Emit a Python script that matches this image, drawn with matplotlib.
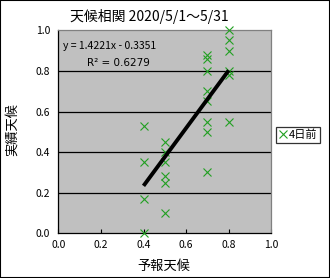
import numpy as np
import matplotlib
matplotlib.use("Agg")
import matplotlib.pyplot as plt
from matplotlib.patches import Rectangle

plt.rcParams["font.family"] = ["Noto Sans CJK JP", "DejaVu Sans"]

# forecast (x) vs actual (y), 4 days ahead
forecast = [0.4, 0.4, 0.4, 0.4,
            0.5, 0.5, 0.5, 0.5, 0.5, 0.5,
            0.7, 0.7, 0.7, 0.7, 0.7, 0.7, 0.7, 0.7,
            0.8, 0.8, 0.8, 0.8, 0.8, 0.8]
actual = [0.53, 0.35, 0.17, 0.0,
          0.45, 0.40, 0.35, 0.28, 0.25, 0.10,
          0.88, 0.86, 0.80, 0.70, 0.65, 0.55, 0.50, 0.30,
          1.0, 0.95, 0.90, 0.80, 0.78, 0.55]
slope = 1.4221
intercept = -0.3351
r2 = 0.6279
ticks = [0.0, 0.2, 0.4, 0.6, 0.8, 1.0]

W, H = 330, 278
fig = plt.figure(figsize=(W / 100, H / 100), dpi=100)
fig.patch.set_facecolor("white")
fig.add_artist(Rectangle((0, 0), 1, 1, transform=fig.transFigure, fill=False,
                         edgecolor="black", linewidth=1.5))

ax = fig.add_axes([58.3 / W, 1 - 233.3 / H, 213 / W, 203 / H])
ax.set_facecolor("#c0c0c0")
ax.set_xlim(0, 1)
ax.set_ylim(0, 1)
ax.set_xticks(ticks)
ax.set_yticks(ticks)
ax.set_xticklabels([f"{t:.1f}" for t in ticks], fontsize=7.5)
ax.set_yticklabels([f"{t:.1f}" for t in ticks], fontsize=7.5)
ax.tick_params(axis="x", direction="in", length=3, width=0.8, pad=5)
ax.tick_params(axis="y", length=0, pad=6)
for t in ticks[1:-1]:
    ax.axhline(t, color="black", linewidth=0.9, zorder=1)
for side in ["top", "right"]:
    ax.spines[side].set_color("#808080")
    ax.spines[side].set_linewidth(0.9)
for side in ["left", "bottom"]:
    ax.spines[side].set_color("black")
    ax.spines[side].set_linewidth(0.9)

ax.plot(forecast, actual, linestyle="none", marker="x", color="#22a022",
        markersize=5.5, markeredgewidth=0.8, clip_on=False, zorder=3,
        label="4日前")

xs = np.array([min(forecast), max(forecast)])
ax.plot(xs, slope * xs + intercept, color="black", linewidth=2.8,
        solid_capstyle="butt", zorder=4)

ax.text(0.02, 0.925, f"y = {slope:.4f}x - {abs(intercept):.4f}", transform=ax.transAxes,
        fontsize=7.5, va="center", ha="left")
ax.text(0.135, 0.84, f"R² = {r2:.4f}", transform=ax.transAxes,
        fontsize=7.5, va="center", ha="left", family=["DejaVu Sans"])

fig.text(149 / W, 1 - 16 / H, "天候相関 2020/5/1～5/31", ha="center", va="center", fontsize=10)
fig.text(12 / W, 1 - 130 / H, "実績天候", rotation=90, ha="center", va="center", fontsize=9.5)
fig.text(164 / W, 1 - 266 / H, "予報天候", ha="center", va="center", fontsize=9.5)

leg = fig.legend(loc="center", bbox_to_anchor=(298 / W, 1 - 135 / H), fontsize=8,
                 frameon=True, fancybox=False, handlelength=0.8, handletextpad=0.1,
                 borderpad=0.25, borderaxespad=0, markerscale=1.0)
leg.get_frame().set_edgecolor("black")
leg.get_frame().set_linewidth(0.9)

fig.savefig("out.png", dpi=100)
